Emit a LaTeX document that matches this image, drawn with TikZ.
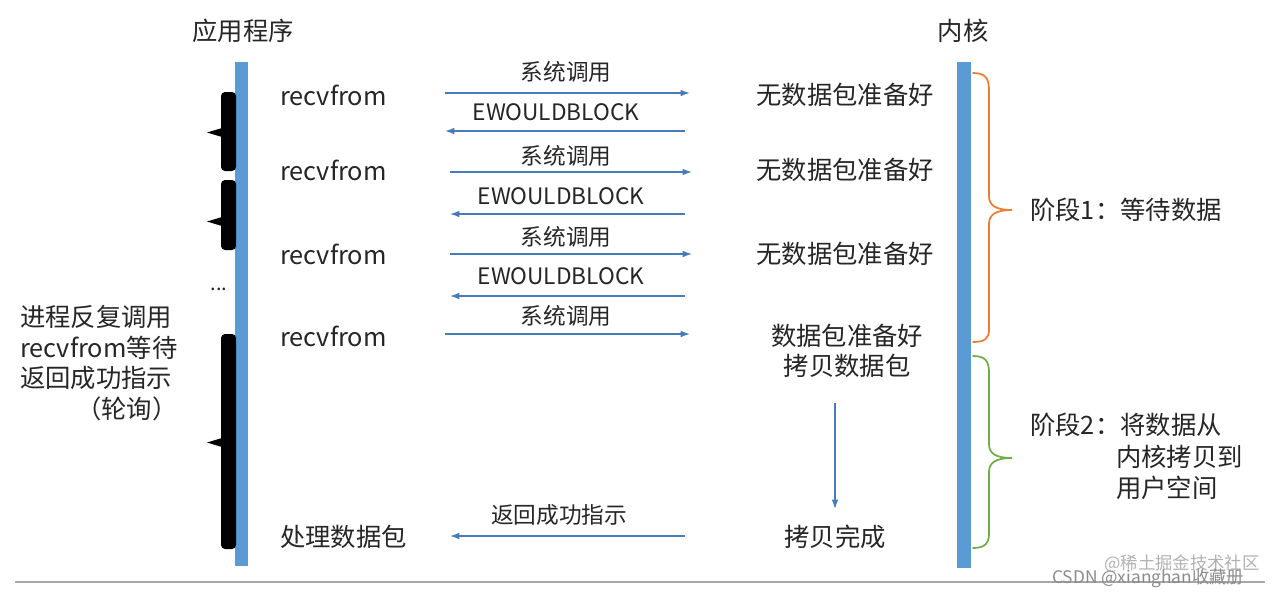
\documentclass[tikz,border=0pt]{standalone}
\usepackage{fontspec}
\setmainfont{Noto Sans CJK SC}
\usetikzlibrary{arrows.meta}
\definecolor{barblue}{RGB}{91,155,213}
\definecolor{arr}{RGB}{72,122,190}
\definecolor{txt}{RGB}{38,38,38}
\definecolor{bor}{RGB}{237,125,49}
\definecolor{bgr}{RGB}{112,173,71}
\begin{document}
\begin{tikzpicture}[x=0.75pt,y=-0.75pt,
  lbl/.style={font=\fontsize{19}{23}\selectfont, text=txt, inner sep=0pt},
  slbl/.style={font=\fontsize{17}{20}\selectfont, text=txt, inner sep=0pt},
  msg/.style={draw=arr, line width=1pt, -{Latex[length=7pt,width=5pt]}},
  lifeline/.style={fill=barblue, draw=none},
  pollbrace/.style={fill=black, draw=none},
  phase/.style={line width=1.3pt, line cap=round},
  wm/.style={font=\fontsize{13}{15}\selectfont, inner sep=0pt}]
\useasboundingbox (0,0) rectangle (1280,594);
\fill[white] (0,0) rectangle (1280,594);

% titles
\node[lbl] (app) at (243,31) {应用程序};
\node[lbl] (ker) at (963,31) {内核};

% lifelines
\fill[lifeline] (235,62) rectangle (248,566);
\fill[lifeline] (957,62) rectangle (971,568);

% black polling braces
\fill[pollbrace, rounded corners=3pt] (221,92) rectangle (236,171);
\fill[pollbrace] (222,128) .. controls (215,131) .. (207,132.5) .. controls (215,134) .. (222,137) -- cycle;
\fill[pollbrace, rounded corners=3pt] (221,180) rectangle (236,250);
\fill[pollbrace] (222,217) .. controls (215,220) .. (207,221.5) .. controls (215,223) .. (222,226) -- cycle;
\fill[pollbrace, rounded corners=3pt] (221,334) rectangle (236,549);
\fill[pollbrace] (222,438) .. controls (215,441) .. (207,442.5) .. controls (215,444) .. (222,447) -- cycle;
\node[lbl, font=\fontsize{15}{16}\selectfont] (dots) at (219,289) {...};

% left description
\node[lbl, align=left, anchor=north west] (proc) at (20,305) {进程反复调用\\recvfrom等待\\返回成功指示\\\hspace*{2.2em}（轮询）};

% application side labels
\node[lbl, anchor=west] (r1) at (280,95) {recvfrom};
\node[lbl, anchor=west] (r2) at (280,170) {recvfrom};
\node[lbl, anchor=west] (r3) at (280,254) {recvfrom};
\node[lbl, anchor=west] (r4) at (280,336) {recvfrom};
\node[lbl, anchor=west] (proc2) at (280,537) {处理数据包};

% kernel side labels
\node[lbl] (k1) at (845,95) {无数据包准备好};
\node[lbl] (k2) at (845,170) {无数据包准备好};
\node[lbl] (k3) at (845,254) {无数据包准备好};
\node[lbl, align=center] (k4) at (847,351) {数据包准备好\\拷贝数据包};
\node[lbl] (k5) at (835,537) {拷贝完成};

% message labels
\node[slbl] (m1) at (566,72) {系统调用};
\node[slbl] (m2) at (556,112) {EWOULDBLOCK};
\node[slbl] (m3) at (566,156) {系统调用};
\node[slbl] (m4) at (561,196) {EWOULDBLOCK};
\node[slbl] (m5) at (566,237) {系统调用};
\node[slbl] (m6) at (561,276) {EWOULDBLOCK};
\node[slbl] (m7) at (566,316) {系统调用};
\node[slbl] (m8) at (559,515) {返回成功指示};

% message endpoints
\coordinate (a1l) at (445,93);  \coordinate (a1r) at (690,93);
\coordinate (a2l) at (445,131); \coordinate (a2r) at (685,131);
\coordinate (a3l) at (450,172); \coordinate (a3r) at (692,172);
\coordinate (a4l) at (450,214); \coordinate (a4r) at (685,214);
\coordinate (a5l) at (450,254); \coordinate (a5r) at (692,254);
\coordinate (a6l) at (450,296); \coordinate (a6r) at (685,296);
\coordinate (a7l) at (445,334); \coordinate (a7r) at (690,334);
\coordinate (a8l) at (450,536); \coordinate (a8r) at (685,536);
\coordinate (cpt) at (835,403);  \coordinate (cpb) at (835,509);

\draw[msg] (a1l) -- (a1r);
\draw[msg] (a2r) -- (a2l);
\draw[msg] (a3l) -- (a3r);
\draw[msg] (a4r) -- (a4l);
\draw[msg] (a5l) -- (a5r);
\draw[msg] (a6r) -- (a6l);
\draw[msg] (a7l) -- (a7r);
\draw[msg] (a8r) -- (a8l);
\draw[msg] (cpt) -- (cpb);

% phase braces
\draw[phase, draw=bor] (973,73) .. controls (985,73) and (989,78) .. (989,90) -- (989,196)
  .. controls (989,205) and (995,210) .. (1012,210)
  .. controls (995,210) and (989,215) .. (989,224) -- (989,330)
  .. controls (989,338) and (985,342) .. (973,342);
\draw[phase, draw=bgr] (973,356) .. controls (985,356) and (989,361) .. (989,372) -- (989,444)
  .. controls (989,453) and (995,458) .. (1012,458)
  .. controls (995,458) and (989,463) .. (989,472) -- (989,534)
  .. controls (989,543) and (985,548) .. (973,548);

\node[lbl, anchor=west] (ph1) at (1030,210) {阶段1：等待数据};
\node[lbl, anchor=west] (ph2) at (1030,425) {阶段2：将数据从};
\node[lbl, anchor=west] (ph2b) at (1116,457) {内核拷贝到};
\node[lbl, anchor=west] (ph2c) at (1116,488) {用户空间};

% bottom rule and watermark (overlapping, as in the reference)
\draw[black!35, line width=0.8pt] (15,582) -- (1265,582);
\node[wm, text=black!30, anchor=west] (wm2) at (1104,564) {@稀土掘金技术社区};
\node[wm, text=black!45, anchor=west] (wm1) at (1052,578) {CSDN @xianghan收藏册};
\end{tikzpicture}
\end{document}
